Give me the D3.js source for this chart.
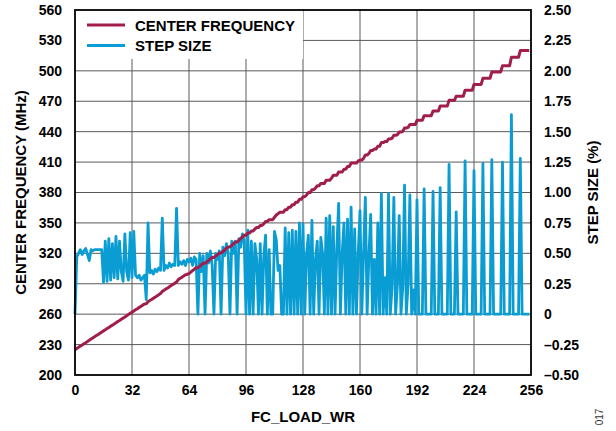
<!DOCTYPE html>
<html><head><meta charset="utf-8">
<script src="https://cdn.jsdelivr.net/npm/d3@7"></script>
<style>
html,body{margin:0;padding:0;background:#fff;}
text{font-family:"Liberation Sans",Arial,sans-serif;}
</style></head>
<body><svg id="c" width="616" height="431"></svg>
<script>
const xTicks = [0, 32, 64, 96, 128, 160, 192, 224, 256];
const leftTicks = [200, 230, 260, 290, 320, 350, 380, 410, 440, 470, 500, 530, 560];
const rightTicks = [-0.5, -0.25, 0, 0.25, 0.5, 0.75, 1, 1.25, 1.5, 1.75, 2, 2.25, 2.5];
const seriesNames = ["CENTER FREQUENCY", "STEP SIZE"];

const centerFreq = [
225.0,226.2,227.3,228.5,229.6,230.8,231.9,233.1,234.2,235.4,236.6,237.7,238.9,240.0,241.2,242.3,
243.5,244.6,245.8,246.9,248.1,249.2,250.4,251.5,252.7,253.8,255.0,256.1,257.3,258.5,259.6,260.8,
262.0,263.1,264.3,265.4,266.6,267.7,268.9,270.0,270.3,272.3,273.4,274.5,275.7,276.8,278.0,279.1,
280.3,282.5,283.6,284.8,285.9,287.1,288.2,289.4,290.5,291.7,294.2,295.3,296.5,297.6,298.8,299.4,
300.0,301.4,302.9,304.3,305.8,305.8,307.2,308.7,310.1,310.1,311.6,313.0,314.5,315.9,315.9,317.4,
318.8,320.3,320.3,321.8,323.3,324.8,326.3,326.3,327.9,329.5,331.1,331.1,332.8,334.5,336.2,337.9,
337.9,340.0,340.0,342.0,342.0,344.0,345.5,345.5,347.5,347.5,349.2,351.4,351.4,353.2,353.2,353.2,
355.6,357.8,359.1,360.5,360.5,360.5,363.1,363.1,365.5,365.5,368.0,368.0,370.5,370.5,373.3,373.3,
375.8,375.8,377.6,379.9,379.9,382.8,382.8,384.4,386.6,386.6,389.0,389.0,389.0,392.0,392.0,392.0,
394.2,396.9,396.9,396.9,400.2,400.2,400.2,403.0,403.0,405.6,405.6,409.0,409.0,409.0,409.0,411.2,
412.0,412.0,413.6,417.0,417.0,418.5,421.5,421.5,422.8,422.8,425.6,425.6,429.2,429.2,430.2,430.2,
432.8,432.8,433.5,436.4,436.4,437.0,439.6,439.6,440.3,443.6,443.6,444.2,447.0,447.0,447.0,447.0,
451.2,451.2,451.2,451.2,455.8,455.8,455.8,455.8,455.8,460.4,460.4,460.4,460.4,465.2,465.2,465.2,
465.2,465.2,470.9,470.9,470.9,470.9,474.9,474.9,474.9,474.9,474.9,480.9,480.9,480.9,480.9,480.9,
486.6,486.6,486.6,486.6,486.6,492.6,492.6,492.6,492.6,492.6,498.9,498.9,498.9,498.9,498.9,498.9,
505.1,505.1,505.1,505.1,505.1,513.4,513.4,513.4,513.4,513.4,520.0,520.0,520.0,520.0,520.0,520.0
];

const stepSize = [
0,0.47,0.50,0.53,0.49,0.52,0.54,0.49,0.44,0.53,0.52,0.53,0.53,0.53,0.53,0.53,
0.26,0.60,0.27,0.62,0.28,0.58,0.30,0.64,0.29,0.60,0.35,0.27,0.66,0.35,0.28,0.67,
0.30,0.68,0.32,0.30,0.32,0.28,0.30,0.32,0.12,0.75,0.34,0.36,0.33,0.37,0.35,0.38,
0.36,0.79,0.36,0.40,0.38,0.42,0.39,0.41,0.40,0.87,0.40,0.43,0.41,0.44,0.40,0.45,
0.43,0.46,0.40,0.47,0.45,0,0.50,0.35,0.48,0,0.50,0.42,0.52,0.40,0,0.50,
0.45,0.52,0,0.55,0.48,0.58,0.50,0,0.60,0.50,0.60,0,0.62,0.55,0.66,0.60,
0,0.69,0,0.60,0,0.58,0.45,0,0.58,0,0.48,0.65,0,0.53,0,0,
0.68,0.61,0.36,0.40,0,0,0.71,0,0.67,0,0.69,0,0.68,0,0.75,0,
0.74,0,0.50,0.65,0,0.77,0,0.45,0.60,0,0.63,0.50,0,0.79,0,0.81,
0,0.72,0,0.55,0.91,0,0.50,0.75,0,0.78,0,0.88,0,0.70,0,0.50,
0.85,0,0.50,0.96,0,0.48,0.82,0,0.45,0,0.75,0,0.99,0,0.30,0,
0.99,0,0.22,0.96,0,0.24,0.81,0,0.22,1.06,0,0.25,0.98,0,0.20,0,
0.94,0,0,0,1.03,0,0,0,0,1.01,0,0,0,1.04,0,0,
0,0,1.23,0,0,0,0.84,0,0,0,0,1.26,0,0,0,0,
1.18,0,0,0,0,1.24,0,0,0,0,1.27,0,0,0,0,0,
1.25,0,0,0,0,1.64,0,0,0,0,1.28,0,0,0,0,0
];

const RED = "#A11D4B", BLUE = "#0A9DD3";
const L = 75, R = 531, T = 10, B = 375;
const svg = d3.select("#c");
const x = d3.scaleLinear().domain([0, 256]).range([L, R]);
const yL = d3.scaleLinear().domain([200, 560]).range([B, T]);
const yR = d3.scaleLinear().domain([-0.5, 2.5]).range([B, T]);

// grid
const g = svg.append("g");
g.selectAll("line.v").data(xTicks.slice(1, -1)).enter().append("line")
  .attr("x1", d => x(d)).attr("x2", d => x(d)).attr("y1", T).attr("y2", B)
  .attr("stroke", "#5a5a5a").attr("stroke-width", 1);
g.selectAll("line.h").data(leftTicks.slice(1, -1)).enter().append("line")
  .attr("x1", L).attr("x2", R).attr("y1", d => yL(d)).attr("y2", d => yL(d))
  .attr("stroke", "#5a5a5a").attr("stroke-width", 1);

// legend background
svg.append("rect").attr("x", L + 1).attr("y", T + 1).attr("width", 302 - L).attr("height", 58 - T).attr("fill", "#fff");

// data
const idx = d3.range(stepSize.length);
svg.append("path").datum(idx)
  .attr("d", d3.line().x(i => x(i)).y(i => yR(stepSize[i])))
  .attr("fill", "none").attr("stroke", BLUE).attr("stroke-width", 2.8).attr("stroke-linejoin", "round");
svg.append("path").datum(d3.range(centerFreq.length))
  .attr("d", d3.line().x(i => x(i)).y(i => yL(centerFreq[i])))
  .attr("fill", "none").attr("stroke", RED).attr("stroke-width", 3).attr("stroke-linejoin", "round");

// frame
svg.append("rect").attr("x", L).attr("y", T).attr("width", R - L).attr("height", B - T)
  .attr("fill", "none").attr("stroke", "#000").attr("stroke-width", 1.8);

// axes
const fs = "14px";
const ax = svg.append("g").attr("transform", `translate(0,${B})`)
  .call(d3.axisBottom(x).tickValues(xTicks).tickSize(0).tickPadding(10).tickFormat(d3.format("d")));
const ay = svg.append("g").attr("transform", `translate(${L},0)`)
  .call(d3.axisLeft(yL).tickValues(leftTicks).tickSize(0).tickPadding(13).tickFormat(d3.format("d")));
const fmtR = d => d === 0 ? "0" : (d < 0 ? "\u2013" : "") + Math.abs(d).toFixed(2);
const ar = svg.append("g").attr("transform", `translate(${R},0)`)
  .call(d3.axisRight(yR).tickValues(rightTicks).tickSize(0).tickPadding(13).tickFormat(fmtR));
[ax, ay, ar].forEach(a => {
  a.select(".domain").remove();
  a.selectAll("text").attr("font-size", fs).attr("font-weight", "bold").attr("fill", "#000")
    .attr("font-family", "Liberation Sans, Arial, sans-serif");
});

// titles
svg.append("text").attr("x", (L + R) / 2).attr("y", 422).attr("text-anchor", "middle")
  .attr("font-size", "15px").attr("font-weight", "bold").text("FC_LOAD_WR");
svg.append("text").attr("transform", `translate(21,${(T + B) / 2}) rotate(-90)`).attr("text-anchor", "middle")
  .attr("dy", "0.35em").attr("font-size", "15px").attr("font-weight", "bold").text("CENTER FREQUENCY (MHz)");
svg.append("text").attr("transform", `translate(593,${(T + B) / 2}) rotate(-90)`).attr("text-anchor", "middle")
  .attr("dy", "0.35em").attr("font-size", "15px").attr("font-weight", "bold").text("STEP SIZE (%)");
svg.append("text").attr("transform", `translate(599,417) rotate(-90)`).attr("text-anchor", "middle")
  .attr("dy", "0.35em").attr("font-size", "10px").attr("fill", "#333").text("017");

// legend
const colors = [RED, BLUE];
const lg = svg.append("g");
seriesNames.forEach((n, i) => {
  const yy = 25 + i * 20.5;
  lg.append("line").attr("x1", 87).attr("x2", 125).attr("y1", yy).attr("y2", yy)
    .attr("stroke", colors[i]).attr("stroke-width", 3);
  lg.append("text").attr("x", 135).attr("y", yy + 5.5).attr("font-size", "15px").attr("font-weight", "bold").text(n);
});
</script></body></html>
